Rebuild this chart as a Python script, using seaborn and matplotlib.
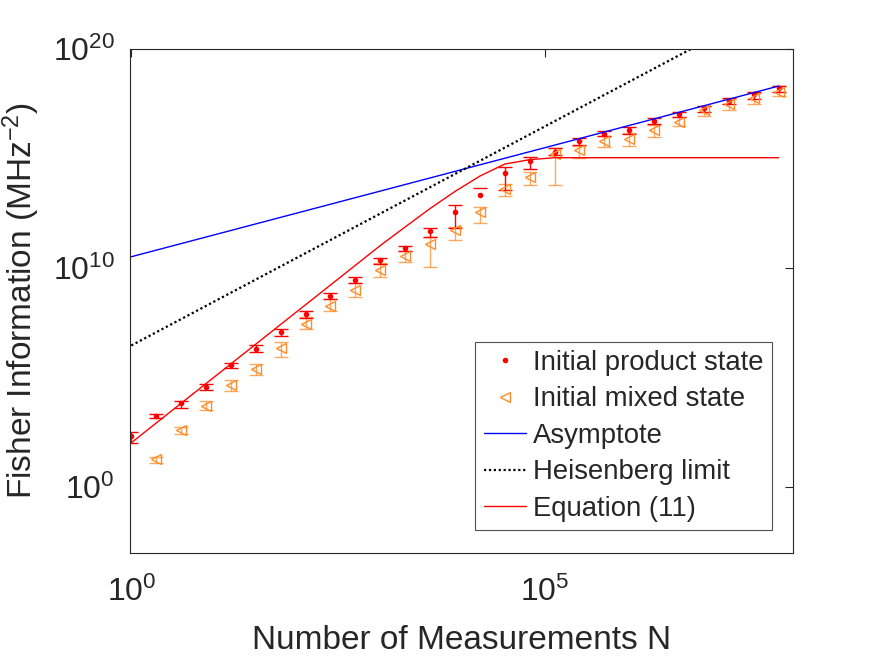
import numpy as np
import pandas as pd
import seaborn as sns
import matplotlib.pyplot as plt
from matplotlib.ticker import NullLocator, FixedLocator

# === Seaborn settings ===
sns.set_theme(style="white")
plt.rcParams['font.family'] = ['Liberation Sans', 'DejaVu Sans']
plt.rcParams['mathtext.fontset'] = 'custom'
plt.rcParams['mathtext.rm'] = 'Liberation Sans'
plt.rcParams['mathtext.default'] = 'regular'

# === Data (log10 of Fisher information) ===
n_meas = [1, 2, 4, 8, 16, 32, 64, 128, 256, 512, 1024, 2048, 4096, 8192,
          16384, 32768, 65536, 131072, 262144, 524288, 1048576, 2097152,
          4194304, 8388608, 16777216, 33554432, 67108864]

prod_log = [2.36, 3.27, 3.84, 4.59, 5.58, 6.33, 7.08, 7.90, 8.74, 9.47, 10.35,
            10.92, 11.71, 12.58, 13.35, 14.34, 14.88, 15.32, 15.80, 16.14,
            16.30, 16.73, 17.02, 17.33, 17.64, 17.96, 18.20]
prod_hi_log = [2.54, 3.36, 3.94, 4.72, 5.69, 6.47, 7.21, 8.04, 8.86, 9.59, 10.46,
               11.03, 11.85, 12.86, 13.65, 14.61, 15.07, 15.48, 15.94, 16.27,
               16.43, 16.85, 17.12, 17.42, 17.76, 18.02, 18.29]
prod_lo_log = [2.04, 3.18, 3.63, 4.44, 5.43, 6.16, 6.92, 7.74, 8.60, 9.32, 10.18,
               10.80, 11.44, 11.83, np.nan, 13.58, 14.53, 15.15, 15.60, 16.01,
               16.14, 16.59, 16.89, 17.12, 17.49, 17.73, 18.04]

mixed_log = [np.nan, 1.28, 2.62, 3.73, 4.67, 5.39, 6.35, 7.44, 8.28, 9.01, 9.92,
             10.56, 11.12, 11.72, 12.58, 13.63, 14.16, 15.20, 15.40, 15.78,
             15.88, 16.32, 16.69, 17.20, 17.49, 17.75, 18.06]
mixed_hi_log = [np.nan, 1.40, 2.74, 3.94, 4.90, 5.62, 6.62, 7.76, 8.60, 9.32, 10.23,
                10.76, 11.44, 11.90, 12.81, 13.82, 14.40, 15.46, 15.59, 16.01,
                16.15, 16.54, 16.89, 17.42, 17.73, 17.99, 18.29]
mixed_lo_log = [np.nan, 1.12, 2.43, 3.53, 4.40, 5.13, 5.96, 7.23, 8.06, 8.68, 9.59,
                10.26, 10.05, 11.29, 12.05, 13.27, 13.79, 13.80, 15.02, 15.52,
                15.59, 16.00, 16.50, 16.95, 17.23, 17.49, 17.84]

eq11_log = [2.03, 2.93, 3.83, 4.73, 5.63, 6.53, 7.43, 8.33, 9.23, 10.13, 11.03,
            11.88, 12.72, 13.50, 14.20, 14.75, 14.95, 15.04, 15.04, 15.04,
            15.04, 15.04, 15.04, 15.04, 15.04, 15.04, 15.04]

line_n = [1, 67108864]
asym_log = [10.52, 18.31]
heis_log = [6.47, 22.12]

df = pd.DataFrame({"N": n_meas,
                   "prod": np.power(10.0, prod_log),
                   "prod_hi": np.power(10.0, prod_hi_log),
                   "prod_lo": np.power(10.0, prod_lo_log),
                   "mixed": np.power(10.0, mixed_log),
                   "mixed_hi": np.power(10.0, mixed_hi_log),
                   "mixed_lo": np.power(10.0, mixed_lo_log),
                   "eq11": np.power(10.0, eq11_log)})
lines = pd.DataFrame({"N": line_n,
                      "asym": np.power(10.0, asym_log),
                      "heis": np.power(10.0, heis_log)})

# === Figure ===
fig = plt.figure(figsize=(8.75, 6.56), dpi=100)
ax = fig.add_axes([0.1486, 0.157, 0.7577, 0.7683])
ax.set_xscale('log')
ax.set_yscale('log')

orange = '#ff8c2a'
# error bars of mixed state
ax.errorbar(df["N"], df["mixed"],
            yerr=[df["mixed"] - df["mixed_lo"], df["mixed_hi"] - df["mixed"]],
            fmt='none', ecolor=orange, alpha=0.75, elinewidth=1.0,
            capsize=4.7, capthick=1.0)
# error bars of product state
ax.errorbar(df["N"], df["prod"],
            yerr=[df["prod"] - df["prod_lo"], df["prod_hi"] - df["prod"]],
            fmt='none', ecolor='red', elinewidth=1.0,
            capsize=4.7, capthick=1.0)

ax.plot(df["N"], df["prod"], linestyle='none', marker='.', ms=6,
        color='red', label='Initial product state')
ax.plot(df["N"], df["mixed"], linestyle='none', marker='<', ms=7.5,
        mfc='none', mec=orange, mew=1.0, label='Initial mixed state')

sns.lineplot(data=lines, x="N", y="asym", color='#0000ff', lw=1.0,
             ax=ax, label='Asymptote')
sns.lineplot(data=lines, x="N", y="heis", color='black', lw=1.6,
             linestyle=(0, (1, 1.2)), ax=ax, label='Heisenberg limit')
sns.lineplot(data=df, x="N", y="eq11", color='red', lw=1.0,
             ax=ax, label='Equation (11)')

# === Axes ===
ax.set_xlim(10 ** -0.015, 1e8)
ax.set_ylim(1e-3, 1e20)
ax.xaxis.set_major_locator(FixedLocator([1, 1e5]))
ax.yaxis.set_major_locator(FixedLocator([1, 1e10, 1e20]))
ax.xaxis.set_minor_locator(NullLocator())
ax.yaxis.set_minor_locator(NullLocator())
ax.set_xticklabels(['$10^{0}$', '$10^{5}$'])
ax.set_yticklabels(['$10^{0}$', '$10^{10}$', '$10^{20}$'])
ax.tick_params(direction='in', length=6, width=0.8, top=True, right=True,
               labelsize=23, colors='#262626')
ax.tick_params(axis='x', pad=17)
ax.tick_params(axis='y', pad=11)
for s in ax.spines.values():
    s.set_color('#262626')
    s.set_linewidth(0.8)

ax.set_xlabel("Number of Measurements N", fontsize=24, color='#262626', labelpad=12)
ax.set_ylabel("Fisher Information (MHz$^{-2}$)", fontsize=24, color='#262626', labelpad=8)

# === Legend ===
leg = ax.legend(loc='lower right', bbox_to_anchor=(0.968, 0.0456),
                borderaxespad=0, fontsize=19.8, frameon=True, fancybox=False,
                handlelength=1.55, handletextpad=0.25, labelspacing=0.38,
                borderpad=0.3)
leg.get_frame().set_edgecolor('#262626')
leg.get_frame().set_linewidth(0.8)

fig.savefig("out.png", dpi=100)
